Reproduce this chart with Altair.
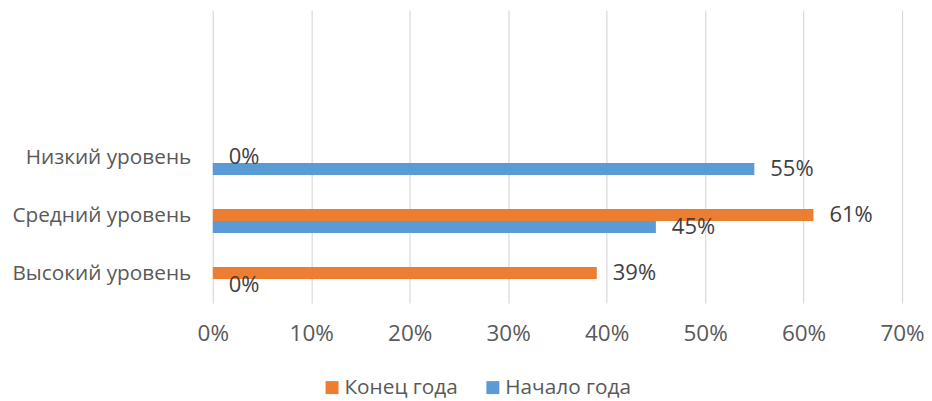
import altair as alt
import pandas as pd

categories = ["Низкий уровень", "Средний уровень", "Высокий уровень"]
blank_slots = ["_blank1", "_blank2"]
series = ["Конец года", "Начало года"]
end_year = [0, 61, 39]
start_year = [55, 45, 0]
x_ticks = [0, 10, 20, 30, 40, 50, 60, 70]
colors = ["#ED7D31", "#5B9BD5"]

rows = []
for c, e, s in zip(categories, end_year, start_year):
    rows.append({"cat": c, "series": series[0], "value": e})
    rows.append({"cat": c, "series": series[1], "value": s})
df = pd.DataFrame(rows)

FONT = "Open Sans"
y_domain = blank_slots + categories

y_enc = alt.Y(
    "cat:N",
    sort=y_domain,
    scale=alt.Scale(domain=y_domain, paddingInner=0.5862, paddingOuter=0.319, align=0.676),
    axis=alt.Axis(
        title=None, domain=False, ticks=False, grid=False, labelPadding=22,
        labelExpr="indexof(datum.label, '_blank') == 0 ? '' : datum.label",
        labelFontSize=20.8, labelColor="#595959", labelFont=FONT, labelOffset=-5,
    ),
)
yoff_enc = alt.YOffset(
    "series:N", sort=series,
    scale=alt.Scale(domain=series, paddingInner=0, paddingOuter=0),
)
x_enc = alt.X(
    "value:Q",
    scale=alt.Scale(domain=[0, 70], nice=False),
    axis=alt.Axis(
        title=None, values=x_ticks, labelExpr="datum.value + '%'",
        domain=False, ticks=False, grid=True, gridColor="#D9D9D9", gridWidth=1.2,
        labelFontSize=22.5, labelColor="#595959", labelFont=FONT, labelPadding=20,
        labelFlush=False,
    ),
)

base = alt.Chart(df)

bars = base.mark_bar().encode(
    x=x_enc,
    y=y_enc,
    yOffset=yoff_enc,
    color=alt.Color(
        "series:N", sort=series,
        scale=alt.Scale(domain=series, range=colors),
        legend=alt.Legend(
            title=None, orient="none", legendX=109, legendY=367, direction="horizontal",
            symbolType="square", symbolSize=169, symbolStrokeWidth=0,
            labelFontSize=20.8, labelFont=FONT, labelColor="#595959",
            labelOffset=2, columnPadding=24, padding=0,
        ),
    ),
)

labels = base.mark_text(
    align="left", baseline="middle", dx=16, fontSize=22, font=FONT, color="#404040"
).transform_calculate(
    lbl="datum.value + '%'"
).encode(
    x=alt.X("value:Q"),
    y=alt.Y("cat:N", sort=y_domain),
    yOffset=alt.YOffset("series:N", sort=series),
    text="lbl:N",
)

chart = alt.layer(bars, labels).properties(
    width=690, height=293,
    autosize=alt.AutoSizeParams(type="none"),
    padding={"left": 205, "top": 2, "right": 22, "bottom": 96},
).configure_view(stroke=None)

chart.save("out.html", embed_options={"renderer": "svg", "actions": False})
